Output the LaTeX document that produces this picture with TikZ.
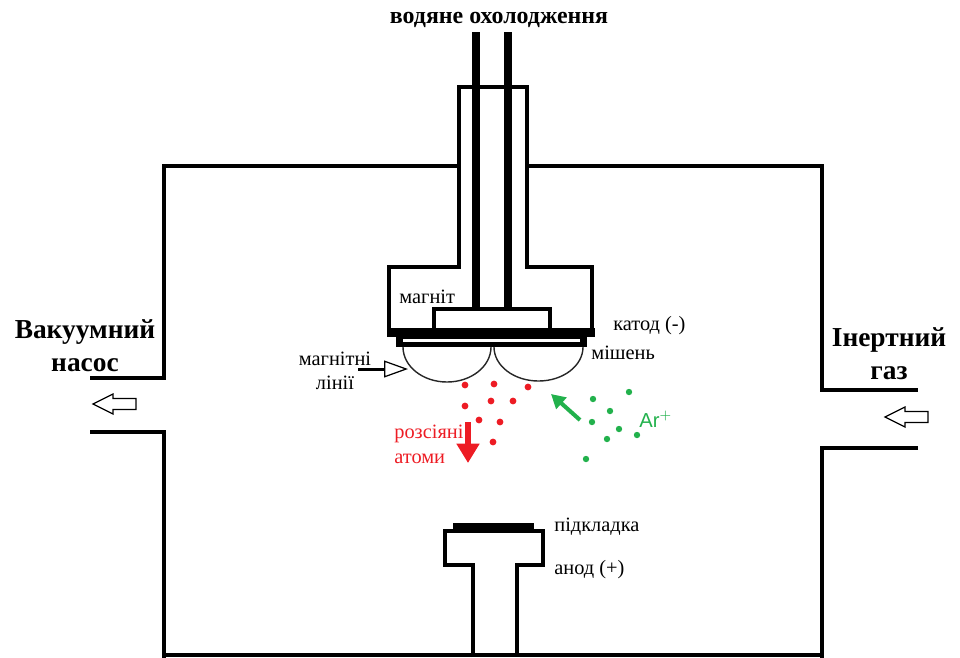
\documentclass[tikz,border=0pt]{standalone}
\usepackage{fontspec}
\setmainfont{Liberation Serif}
\newfontfamily\arialfont{Liberation Sans}
\usetikzlibrary{arrows.meta}

\definecolor{sputred}{RGB}{237,28,36}
\definecolor{argreen}{RGB}{34,177,76}

\tikzset{
  wall/.style={line width=2.8pt, line join=miter},
  pipe/.style={line width=5pt},
  field/.style={line width=0.8pt, black!85},
  flow/.style={line width=0.7pt, fill=white},
  small/.style={inner sep=0pt, anchor=west, font=\fontsize{11.6}{13.8}\selectfont},
  side/.style={inner sep=0pt, align=center, font=\bfseries\fontsize{15.6}{18.7}\selectfont},
  flowarrow/.pic={
    \draw[flow] (0,0) -- (20,-10) -- (20,-5.5) -- (43,-5.5)
      -- (43,5.5) -- (20,5.5) -- (20,10) -- cycle;
  },
}

\begin{document}
\begin{tikzpicture}[x=0.02cm,y=-0.02cm]
  \useasboundingbox (0,0) rectangle (960,657);

  % chamber walls with pump and gas ports
  \draw[wall] (90,378) -- (164,378) -- (164,166) -- (459,166);
  \draw[wall] (90,432) -- (164,432) -- (164,660);
  \draw[wall] (527,166) -- (822,166) -- (822,390) -- (918,390);
  \draw[wall] (918,448) -- (822,448) -- (822,660);
  \draw[wall] (164,655) -- (822,655);

  % cathode holder with magnet box
  \draw[wall] (459,87) -- (527,87) -- (527,267) -- (592,267)
    -- (592,333) -- (389,333) -- (389,267) -- (459,267) -- cycle;
  \draw[pipe] (476,32) -- (476,309);
  \draw[pipe] (508,32) -- (508,309);
  \draw[wall] (434,309) rectangle (550,331);
  \fill (387,328) rectangle (595,337);

  % target plate
  \fill (396,336) rectangle (587,347);
  \fill[white] (403,338.5) rectangle (580,342);

  % magnetic field lines
  \draw[field] (403,347) arc[start angle=180, end angle=0, x radius=44, y radius=35];
  \draw[field] (494,347) arc[start angle=180, end angle=0, x radius=44.5, y radius=34];
  \coordinate (fieldfrom) at (358,369);
  \coordinate (fieldto) at (408,369);
  \draw[line width=1.7pt, -{Triangle[open, length=13.6pt, width=9.6pt, line width=0.7pt]}]
    (fieldfrom) -- (fieldto);

  % anode with substrate
  \fill (453,523) rectangle (534,531);
  \draw[wall] (473,657) -- (473,565) -- (445,565) -- (445,531)
    -- (543,531) -- (543,565) -- (517,565) -- (517,657);

  % gas flow arrows
  \pic at (93,404) {flowarrow};
  \pic at (885,417) {flowarrow};

  % sputtered atoms
  \foreach \p in {(465,385),(494,384),(528,387),(465,406),(491,401),
                  (513,401),(479,420),(500,422),(493,442)}
    \fill[sputred] \p circle[radius=3.4];
  \coordinate (atomsfrom) at (468,422);
  \coordinate (atomsto) at (468,463);
  \draw[sputred, line width=3.4pt, -{Triangle[length=11pt, width=12.5pt]}]
    (atomsfrom) -- (atomsto);

  % argon ions
  \foreach \p in {(629,392),(593,399),(610,411),(592,422),(619,429),
                  (637,435),(607,439),(586,459)}
    \fill[argreen] \p circle[radius=3.2];
  \coordinate (ionsfrom) at (580,420);
  \coordinate (ionsto) at (551,394);
  \draw[argreen, line width=2.3pt, -{Triangle[length=8pt, width=8.5pt]}]
    (ionsfrom) -- (ionsto);

  % labels
  \node[inner sep=0pt, font=\bfseries\fontsize{13.6}{16}\selectfont] (cooling) at (499,20) {водяне охолодження};
  \node[side] (pump) at (85,346) {Вакуумний\\насос};
  \node[side] (gas) at (889,354) {Інертний\\газ};
  \node[small] (magnet) at (399,297) {магніт};
  \node[small] (cathode) at (613,326) {катод (-)};
  \node[small] (target) at (591,353) {мішень};
  \node[small, anchor=center, align=center] (fieldlines) at (335,371) {магнітні\\лінії};
  \node[small, align=left, text=sputred, font=\fontsize{11.6}{14.2}\selectfont] (atoms) at (394,444) {розсіяні\\атоми};
  \node[small, text=argreen, font=\arialfont\fontsize{11.5}{14}\selectfont] (ions) at (639,419) {Ar$^+$};
  \node[small] (substrate) at (554,527) {підкладка};
  \node[small] (anode) at (554,570) {анод (+)};
\end{tikzpicture}
\end{document}
